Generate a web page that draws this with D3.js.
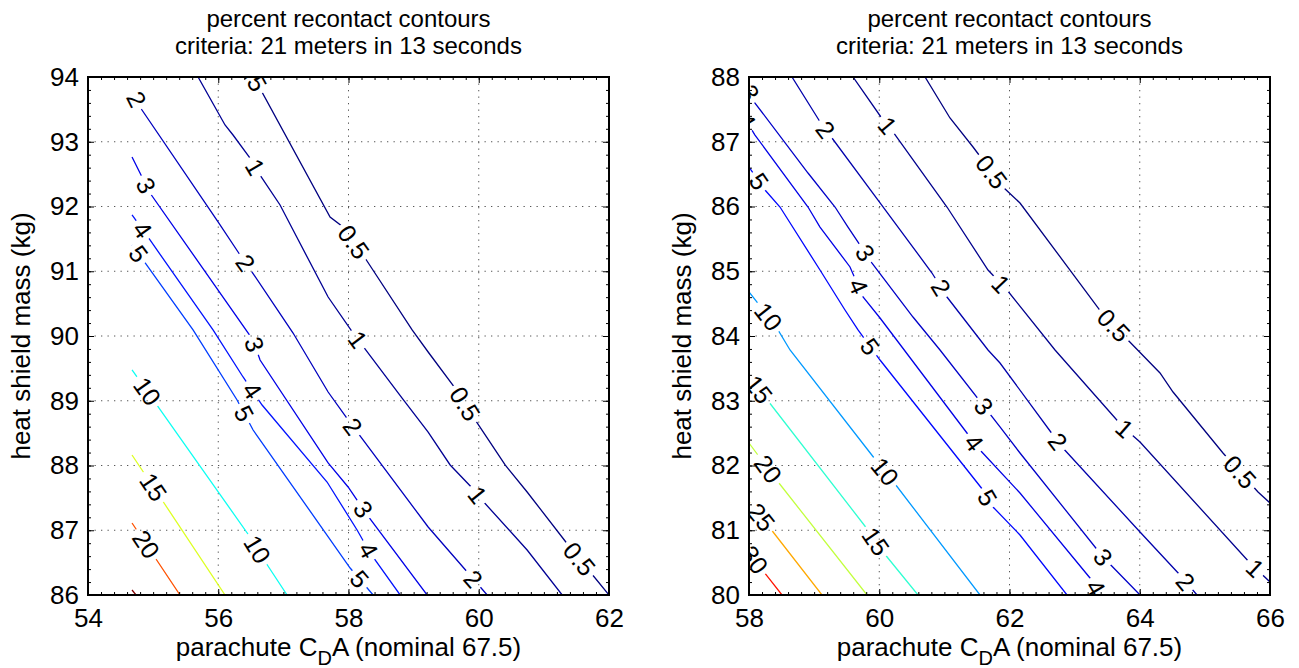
<!DOCTYPE html>
<html>
<head>
<meta charset="utf-8">
<title>percent recontact contours</title>
<style>
  body { margin: 0; background: #fff; }
  text { font-family: "Liberation Sans", Arial, Helvetica, sans-serif; fill: #000; }
</style>
</head>
<body>
<script src="https://cdn.jsdelivr.net/npm/d3@7"></script>
<script>

// ---- data ----
var titleLines = ["percent recontact contours", "criteria: 21 meters in 13 seconds"];

// left panel: parachute CdA 54..62, heat shield mass 86..94
var leftXTicks = [54, 56, 58, 60, 62];
var leftYTicks = [86, 87, 88, 89, 90, 91, 92, 93, 94];
var leftLines = [
  [0.5, [[56.47,94.14],[57.717,91.838],[57.917,91.683],[58.224,91.251],[58.977,90.093],[59.223,89.753],[59.668,89.151],[59.945,88.703],[60.405,88.008],[60.743,87.591],[61.373,86.772],[61.711,86.355],[62.0,86.0]]],
  [1, [[55.69,94.0],[56.104,93.259],[56.227,93.104],[56.488,92.749],[56.642,92.486],[56.949,92.023],[57.149,91.637],[57.687,90.602],[58.071,90.046],[58.823,89.042],[59.223,88.517],[59.561,88.008],[59.899,87.652],[60.021,87.498],[60.743,86.695],[61.281,86.0]]],
  [2, [[54.676,93.799],[54.829,93.49],[55.997,91.761],[56.335,91.251],[56.519,90.988],[57.149,90.046],[57.687,89.135],[57.994,88.703],[59.223,87.05],[59.837,86.34],[60.129,86.0]]],
  [3, [[54.676,92.764],[54.952,92.208],[56.535,89.938],[56.642,89.629],[57.687,88.039],[57.994,87.668],[58.286,87.236],[59.207,86.0]]],
  [4, [[54.676,91.869],[54.952,91.483],[55.92,90.093],[56.381,89.367],[56.673,88.934],[57.671,87.745],[58.132,87.004],[58.332,86.649],[58.793,86.0]]],
  [5, [[54.676,91.405],[54.845,91.174],[55.613,90.093],[56.289,89.012],[56.535,88.548],[58.025,86.417],[58.378,86.0]]],
  [10, [[54.676,89.475],[54.983,89.042],[56.488,86.896],[56.673,86.587],[57.057,86.0]]],
  [15, [[54.676,88.162],[55.137,87.467],[56.104,86.0]]],
  [20, [[54.676,87.112],[54.952,86.695],[55.413,86.0]]],
  [25, [[54.676,86.077],[54.737,86.0]]]
];
var leftLabels = [
  [0.5, 56.55, 94.06], [0.5, 58.055, 91.436], [0.5, 59.76, 88.934], [0.5, 61.527, 86.541],
  [1, 56.565, 92.61], [1, 58.132, 89.938], [1, 59.975, 87.544],
  [2, 54.722, 93.645], [2, 56.412, 91.127], [2, 58.055, 88.595], [2, 59.899, 86.232],
  [3, 54.906, 92.332], [3, 56.535, 89.861], [3, 58.209, 87.313],
  [4, 54.829, 91.637], [4, 56.535, 89.166], [4, 58.255, 86.664],
  [5, 54.753, 91.251], [5, 56.412, 88.811], [5, 58.117, 86.201],
  [10, 54.876, 89.12], [10, 56.581, 86.695],
  [15, 54.983, 87.653],
  [20, 54.876, 86.772]
];

// right panel: parachute CdA 58..66, heat shield mass 80..88
var rightXTicks = [58, 60, 62, 64, 66];
var rightYTicks = [80, 81, 82, 83, 84, 85, 86, 87, 88];
var rightLines = [
  [0.5, [[60.703,88.0],[61.086,87.367],[61.44,86.919],[61.9,86.301],[62.161,86.054],[63.42,84.355],[63.773,83.985],[64.311,83.429],[64.511,83.135],[65.278,82.193],[65.816,81.591],[66.0,81.421]]],
  [1, [[59.597,88.0],[60.058,87.336],[60.211,87.151],[61.04,85.992],[61.67,85.019],[61.962,84.71],[62.699,83.784],[63.743,82.595],[64.004,82.363],[65.693,80.494],[66.0,80.201]]],
  [2, [[58.66,88.0],[59.121,87.259],[59.274,87.058],[59.981,86.1],[60.81,84.973],[61.04,84.602],[61.67,83.784],[61.854,83.583],[62.668,82.471],[62.806,82.286],[64.004,80.973],[64.618,80.309],[64.879,80.0]]],
  [3, [[57.95,87.87],[58.092,87.598],[58.906,86.517],[59.321,85.992],[59.52,85.683],[59.889,85.127],[60.518,84.293],[60.933,83.784],[61.854,82.595],[62.161,82.193],[63.436,80.587],[64.004,80.0]]],
  [4, [[57.93,87.37],[58.092,87.104],[58.906,85.992],[59.09,85.683],[59.551,85.066],[59.751,84.602],[60.012,84.278],[61.393,82.44],[61.547,82.239],[62.161,81.575],[63.236,80.263],[63.39,80.0]]],
  [5, [[58.0,86.61],[58.246,86.255],[58.476,85.992],[59.09,85.019],[59.474,84.402],[59.674,84.093],[60.012,83.629],[61.593,81.622],[61.747,81.359],[62.161,80.927],[62.883,80.0]]],
  [10, [[58.0,84.68],[58.399,84.17],[58.63,83.784],[59.981,82.039],[60.196,81.776],[61.547,80.0]]],
  [15, [[58.0,83.367],[58.246,83.058],[59.827,81.004],[60.058,80.664],[60.595,80.0]]],
  [20, [[58.0,82.347],[58.399,81.807],[59.812,80.0]]],
  [25, [[58.0,81.436],[58.322,81.035],[59.121,80.0]]],
  [30, [[58.0,80.664],[58.169,80.432],[58.507,80.0]]]
];
var rightLabels = [
  [0.5, 61.701, 86.517], [0.5, 63.574, 84.139], [0.5, 65.539, 81.9],
  [1, 60.134, 87.259], [1, 61.885, 84.819], [1, 63.773, 82.579], [1, 65.785, 80.432],
  [2, 59.167, 87.181], [2, 60.933, 84.741], [2, 62.729, 82.363], [2, 64.695, 80.201],
  [3, 58.0, 87.75], [3, 59.781, 85.282], [3, 61.593, 82.903], [3, 63.436, 80.587],
  [4, 57.96, 87.32], [4, 59.658, 84.757], [4, 61.47, 82.363], [4, 63.344, 80.124],
  [5, 58.138, 86.378], [5, 59.889, 83.861], [5, 61.655, 81.498],
  [10, 58.292, 84.293], [10, 60.058, 81.884],
  [15, 58.138, 83.166], [15, 59.935, 80.819],
  [20, 58.276, 81.931],
  [25, 58.169, 81.189],
  [30, 58.077, 80.541]
];

// ---- layout ----
var W = 1299, H = 668;
var plotT = 77, plotB = 595, plotW = 521;
var fs = 26;

var svg = d3.select("body").append("svg").attr("width", W).attr("height", H);
var defs = svg.append("defs");

// matlab jet colormap
function jet(t) {
  t = Math.max(0, Math.min(1, t));
  function c(v) { return Math.max(0, Math.min(1, v)); }
  var r = c(Math.min(4 * t - 1.5, -4 * t + 4.5));
  var g = c(Math.min(4 * t - 0.5, -4 * t + 3.5));
  var b = c(Math.min(4 * t + 0.5, -4 * t + 2.5));
  return d3.rgb(r * 255, g * 255, b * 255).formatHex();
}

function drawPanel(p) {
  var x = d3.scaleLinear().domain(p.xDomain).range([p.left, p.left + plotW]);
  var y = d3.scaleLinear().domain(p.yDomain).range([plotB, plotT]);
  var color = function(v) { return jet((v - 0.5) / (p.cmax - 0.5)); };
  var g = svg.append("g");

  // grid (dotted)
  g.append("g").selectAll("line").data(p.xTicks.slice(1, -1)).join("line")
    .attr("x1", d => x(d)).attr("x2", d => x(d)).attr("y1", plotT).attr("y2", plotB)
    .attr("stroke", "#555").attr("stroke-width", 1).attr("stroke-dasharray", "1.3,5.2");
  g.append("g").selectAll("line").data(p.yTicks.slice(1, -1)).join("line")
    .attr("y1", d => y(d)).attr("y2", d => y(d)).attr("x1", x.range()[0]).attr("x2", x.range()[1])
    .attr("stroke", "#555").attr("stroke-width", 1).attr("stroke-dasharray", "1.3,5.2");

  // clip
  defs.append("clipPath").attr("id", "clip" + p.id).append("rect")
    .attr("x", x.range()[0]).attr("y", plotT).attr("width", plotW).attr("height", plotB - plotT);
  var cg = g.append("g").attr("clip-path", "url(#clip" + p.id + ")");

  // contour lines (masked around the inline labels)
  var lineGen = d3.line().x(d => x(d[0])).y(d => y(d[1]));
  var lg = cg.append("g").attr("mask", "url(#mask" + p.id + ")");
  lg.selectAll("path").data(p.lines).join("path")
    .attr("d", d => lineGen(d[1]))
    .attr("fill", "none")
    .attr("stroke", d => color(d[0]))
    .attr("stroke-width", 1.3);

  // snap labels onto their line, rotate along it
  var placed = p.labels.map(function(l) {
    var line = p.lines.find(d => d[0] === l[0]);
    var pts = line[1].map(q => [x(q[0]), y(q[1])]);
    var px = x(l[1]), py = y(l[2]);
    var best = { d: Infinity };
    for (var i = 0; i < pts.length - 1; i++) {
      var ax = pts[i][0], ay = pts[i][1], bx = pts[i + 1][0], by = pts[i + 1][1];
      var dx = bx - ax, dy = by - ay;
      var t = ((px - ax) * dx + (py - ay) * dy) / (dx * dx + dy * dy);
      t = Math.max(0, Math.min(1, t));
      var cx = ax + t * dx, cy = ay + t * dy;
      var dd = (px - cx) * (px - cx) + (py - cy) * (py - cy);
      if (dd < best.d) best = { d: dd, x: cx, y: cy, a: Math.atan2(dy, dx) * 180 / Math.PI };
    }
    if (best.a > 90) best.a -= 180;
    if (best.a < -90) best.a += 180;
    return { level: l[0], x: best.x, y: best.y, angle: best.a };
  });

  var texts = cg.append("g").selectAll("text").data(placed).join("text")
    .attr("x", d => d.x).attr("y", d => d.y)
    .attr("dy", "0.36em")
    .attr("text-anchor", "middle")
    .attr("font-size", 25)
    .attr("transform", d => "rotate(" + d.angle + "," + d.x + "," + d.y + ")")
    .text(d => d.level);

  var mask = defs.append("mask").attr("id", "mask" + p.id)
    .attr("maskUnits", "userSpaceOnUse").attr("x", 0).attr("y", 0).attr("width", W).attr("height", H);
  mask.append("rect").attr("x", 0).attr("y", 0).attr("width", W).attr("height", H).attr("fill", "#fff");
  texts.each(function(d) {
    var bb = this.getBBox();
    var h = bb.height * 0.7;
    mask.append("rect")
      .attr("x", d.x - bb.width / 2 - 4).attr("y", d.y - h / 2)
      .attr("width", bb.width + 8).attr("height", h)
      .attr("fill", "#000")
      .attr("transform", "rotate(" + d.angle + "," + d.x + "," + d.y + ")");
  });

  // ticks on all four sides, pointing in
  var xMinor = d3.range(p.xDomain[0], p.xDomain[1] + 0.001, 0.2);
  var yMinor = d3.range(p.yDomain[0], p.yDomain[1] + 0.001, 0.2);
  function axis(gen, tr, vals, size, labels, pad) {
    var a = gen.tickValues(vals).tickSize(size).tickSizeOuter(0);
    if (labels) a.tickPadding(pad); else a.tickFormat("");
    var ag = g.append("g").attr("transform", tr).call(a);
    ag.select(".domain").remove();
    ag.selectAll("line").attr("stroke", "#000").attr("stroke-width", 1);
    ag.selectAll("text").attr("font-size", fs).attr("font-family", null);
    return ag;
  }
  axis(d3.axisBottom(x), "translate(0," + plotB + ")", xMinor, -3, false);
  axis(d3.axisTop(x), "translate(0," + plotT + ")", xMinor, -3, false);
  axis(d3.axisLeft(y), "translate(" + x.range()[0] + ",0)", yMinor, -3, false);
  axis(d3.axisRight(y), "translate(" + x.range()[1] + ",0)", yMinor, -3, false);
  axis(d3.axisBottom(x), "translate(0," + plotB + ")", p.xTicks, -6, true, 14);
  axis(d3.axisTop(x), "translate(0," + plotT + ")", p.xTicks, -6, false);
  axis(d3.axisLeft(y), "translate(" + x.range()[0] + ",0)", p.yTicks, -6, true, 9);
  axis(d3.axisRight(y), "translate(" + x.range()[1] + ",0)", p.yTicks, -6, false);

  // box
  g.append("rect").attr("x", x.range()[0]).attr("y", plotT).attr("width", plotW).attr("height", plotB - plotT)
    .attr("fill", "none").attr("stroke", "#000").attr("stroke-width", 2);

  var cx = p.left + plotW / 2;
  // title
  g.append("g").selectAll("text").data(titleLines).join("text")
    .attr("x", cx).attr("y", (d, i) => 27 + i * 27)
    .attr("text-anchor", "middle").attr("font-size", 24).text(d => d);

  // axis labels
  var xl = g.append("text").attr("x", cx).attr("y", 656).attr("text-anchor", "middle").attr("font-size", fs);
  xl.append("tspan").text("parachute C");
  xl.append("tspan").attr("dy", 9).attr("font-size", 20).text("D");
  xl.append("tspan").attr("dy", -9).text("A (nominal 67.5)");

  g.append("text")
    .attr("transform", "translate(" + (p.left - 58) + "," + ((plotT + plotB) / 2) + ") rotate(-90)")
    .attr("text-anchor", "middle").attr("font-size", fs)
    .text("heat shield mass (kg)");
}

drawPanel({ id: 1, left: 88, xDomain: [54, 62], yDomain: [86, 94], xTicks: leftXTicks, yTicks: leftYTicks,
  lines: leftLines, labels: leftLabels, cmax: 25 });
drawPanel({ id: 2, left: 749, xDomain: [58, 66], yDomain: [80, 88], xTicks: rightXTicks, yTicks: rightYTicks,
  lines: rightLines, labels: rightLabels, cmax: 35 });

</script>
</body>
</html>
